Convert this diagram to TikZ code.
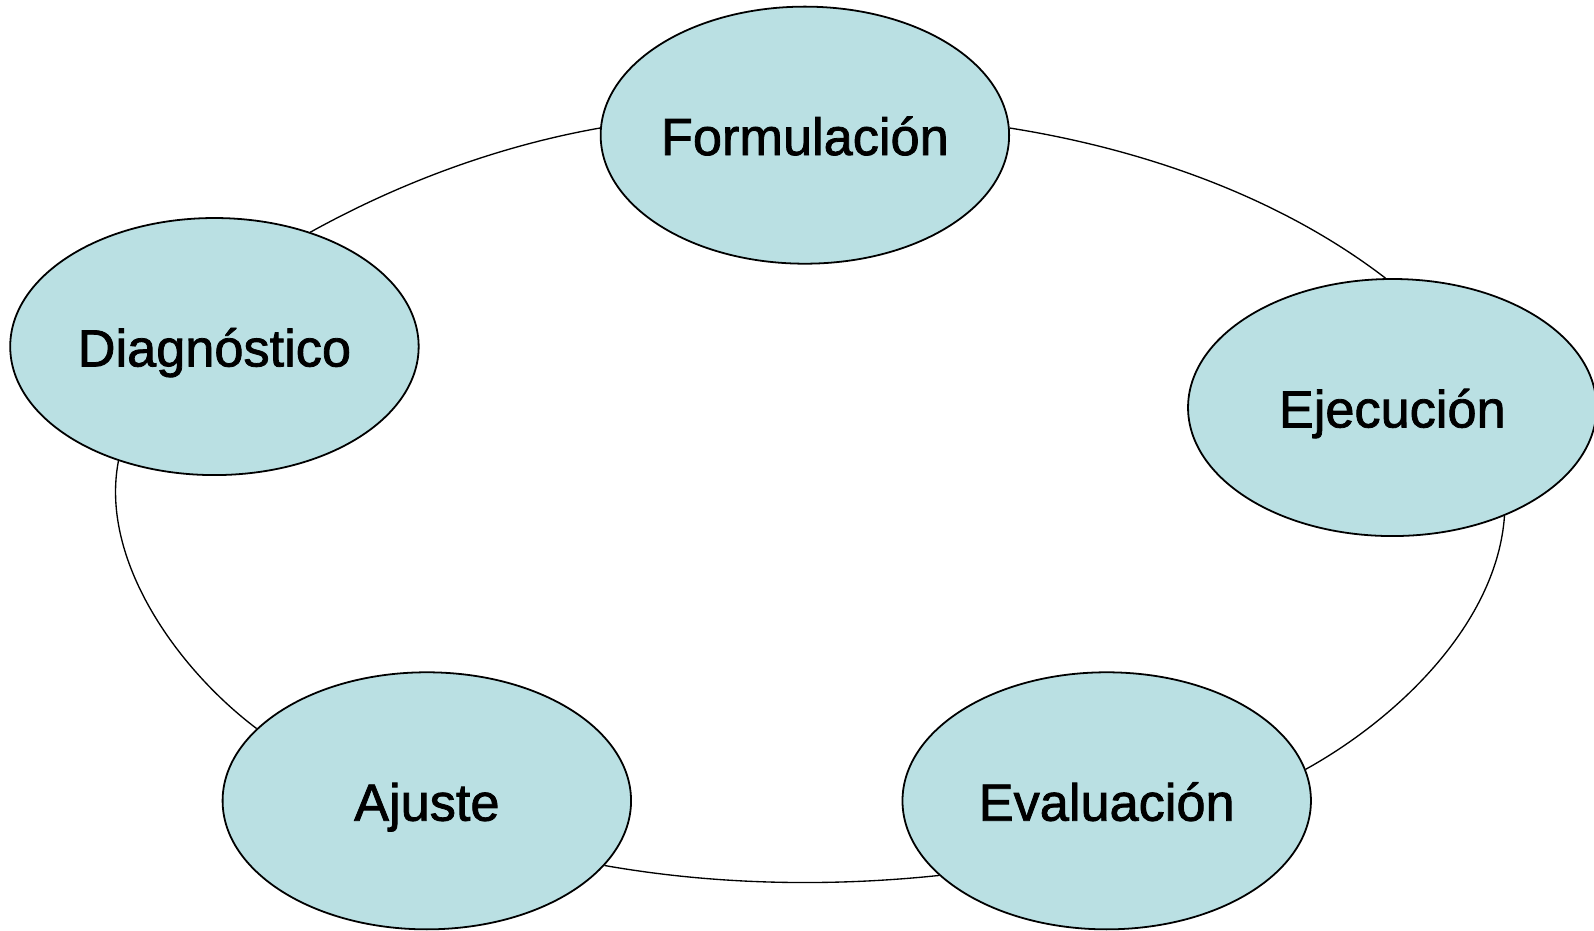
\documentclass[tikz,border=0pt]{standalone}
\usepackage{fontspec}
\setmainfont{Liberation Sans}
\newfontface\labelfont{Liberation Sans}[RawFeature={embolden=1.5}]
\usetikzlibrary{positioning, calc}
\usetikzlibrary{shapes.geometric}
\definecolor{cyclefill}{RGB}{186,224,227}

\begin{document}
\begin{tikzpicture}[x=0.02cm, y=-0.02cm, draw=black!100]
	\fontsize{29.3pt}{34pt}\labelfont
	\useasboundingbox (0,0) rectangle (1568.5,916);
	\tikzstyle{e-node}=[ellipse, draw, line width=1pt, fill=cyclefill, inner sep=0pt, text height=0.76em, text depth=0pt, minimum width=8.04cm, minimum height=5.06cm]
	\tikzstyle{c-line}=[line width=0.75pt, looseness=0.85]
	\node[e-node] 	(form)	at (792,133)		{Formulación};
	\node[e-node] 	(diag)	at (211,341)		{Diagnóstico};
	\node[e-node] 	(ejec)	at (1370,401)		{Ejecución};
	\node[e-node] 	(eval)	at (1089,788)		{Evaluación};
	\node[e-node] 	(ajus)	at (420,788)		{Ajuste};
	% cycle
	\draw[c-line] (form.178.6) to[out=190, in=29] (diag.50.6);
	\draw[c-line] (form.2) to[out=-9, in=142.5] (ejec.93.6);
	\draw[c-line] (ejec.-44) to[out=-94, in=29] (eval.9);
	\draw[c-line] (eval.204.3) to[out=186, in=-10] (ajus.-20.5);
	\draw[c-line] (ajus.157) to[out=143, in=259] (diag.230.2);
\end{tikzpicture}
\end{document}
